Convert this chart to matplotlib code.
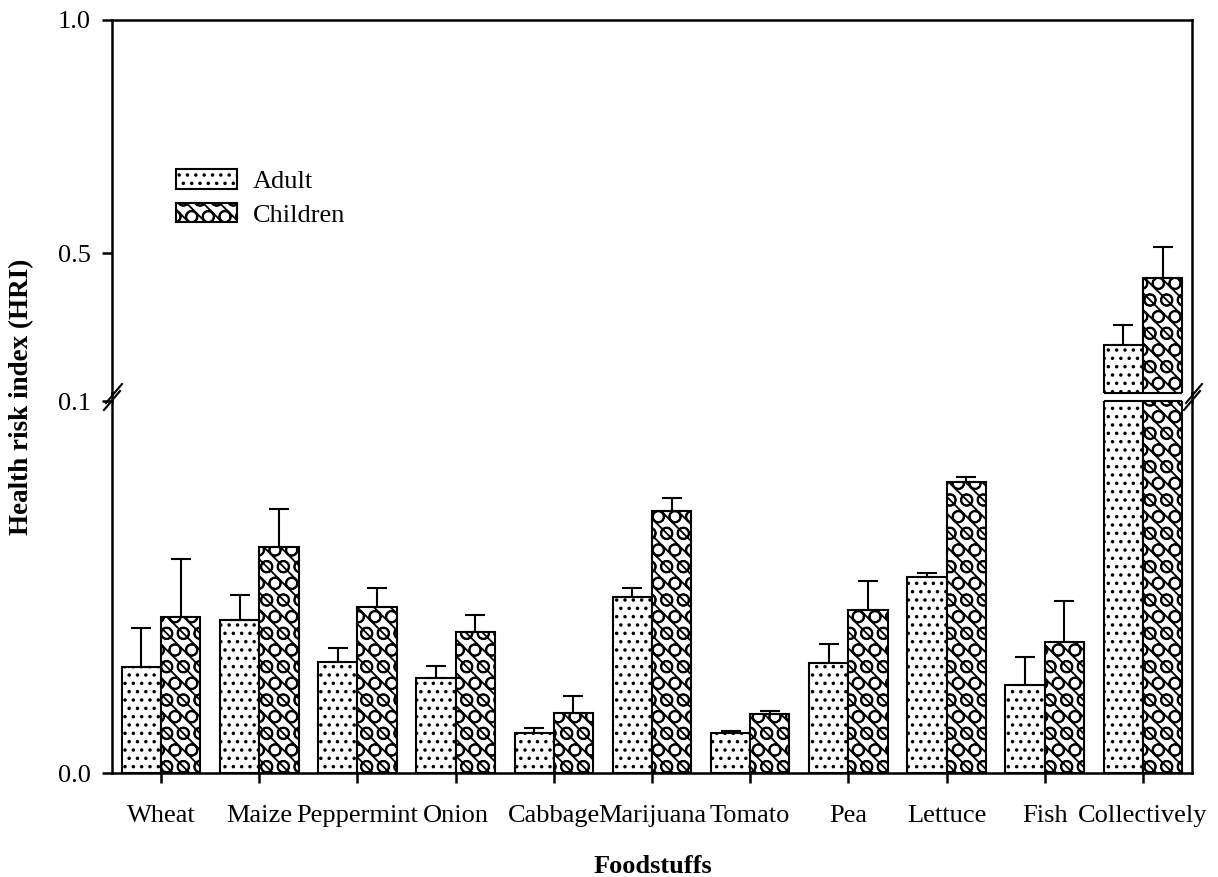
import numpy as np
import matplotlib.pyplot as plt
from matplotlib.lines import Line2D

plt.rcParams['font.family'] = ['Liberation Serif', 'DejaVu Serif']
plt.rcParams['hatch.linewidth'] = 1.3
plt.rcParams['axes.linewidth'] = 1.8

foods = ['Wheat', 'Maize', 'Peppermint', 'Onion', 'Cabbage', 'Marijuana',
         'Tomato', 'Pea', 'Lettuce', 'Fish', 'Collectively']
adult = [0.0285, 0.0411, 0.0298, 0.0255, 0.0108, 0.0473,
         0.0108, 0.0296, 0.0527, 0.0237, 0.303]
adult_err = [0.0105, 0.0067, 0.0038, 0.0032, 0.0013, 0.0024,
             0.0005, 0.0051, 0.0011, 0.0075, 0.043]
children = [0.0419, 0.0608, 0.0446, 0.0379, 0.0161, 0.0704,
            0.0159, 0.0438, 0.0782, 0.0352, 0.447]
children_err = [0.0156, 0.0102, 0.0051, 0.0046, 0.0046, 0.0035,
                0.0008, 0.0078, 0.0014, 0.0110, 0.066]

W, H = 1218, 877
fs = 19


def px_box(x0, x1, y_top, y_bot):
    return [x0 / W, 1 - y_bot / H, (x1 - x0) / W, (y_bot - y_top) / H]


def fig_line(xs, ys, lw=1.8):
    fig.add_artist(Line2D([v / W for v in xs], [1 - v / H for v in ys],
                          color='black', lw=lw, transform=fig.transFigure))


fig = plt.figure(figsize=(W / 100, H / 100), dpi=100)
ax_lo = fig.add_axes(px_box(112, 1192, 401, 773))
ax_hi = fig.add_axes(px_box(112, 1192, 20, 393))

x = np.arange(len(foods))
w = 0.4
n = len(foods)
ekw = dict(ecolor='black', elinewidth=1.5, capsize=7, capthick=1.5)

for ax in (ax_lo, ax_hi):
    ax.bar(x - w / 2, adult, w, yerr=[np.zeros(n), adult_err],
           facecolor='white', edgecolor='black', linewidth=1.5,
           hatch='..', error_kw=ekw, label='Adult')
    ax.bar(x + w / 2, children, w, yerr=[np.zeros(n), children_err],
           facecolor='white', edgecolor='black', linewidth=1.5,
           hatch='O\\\\', error_kw=ekw, label='Children')
    ax.set_xlim(-0.5, n - 0.5)
    ax.tick_params(axis='both', direction='out', length=7, width=1.8,
                   labelsize=fs, pad=8)

# lower segment 0-0.1, upper segment 0.2-1.0
ax_lo.set_ylim(0, 0.1)
ax_lo.set_yticks([0, 0.1], ['0.0', '0.1'])
ax_lo.set_xticks(x, foods)
ax_lo.tick_params(axis='x', pad=16)
ax_lo.spines['top'].set_visible(False)

ax_hi.set_ylim(0.2, 1.0)
ax_hi.set_yticks([0.5, 1.0], ['0.5', '1.0'])
ax_hi.set_xticks([])
ax_hi.spines['bottom'].set_visible(False)

# close off bars cut by the break
lo_top, hi_bot = ax_lo.get_ylim()[1], ax_hi.get_ylim()[0]
for offs, vals in ((-w / 2, adult), (w / 2, children)):
    for xi, v in zip(x, vals):
        if v > lo_top:
            ax_lo.hlines(lo_top, xi + offs - w / 2, xi + offs + w / 2,
                         color='black', lw=1.5, clip_on=False)
        if v > hi_bot:
            ax_hi.hlines(hi_bot, xi + offs - w / 2, xi + offs + w / 2,
                         color='black', lw=1.5, clip_on=False)

# axis lines across the gap and the break marks
for xs in (112, 1192):
    fig_line([xs, xs], [393, 401])
    fig_line([xs - 8, xs + 8], [410, 391], lw=1.5)
    fig_line([xs - 6, xs + 10], [403, 384], lw=1.5)

ax_hi.legend(loc='upper left', bbox_to_anchor=(176 / W, 1 - 169 / H),
             bbox_transform=fig.transFigure, frameon=False, fontsize=fs,
             handlelength=2.3, handleheight=0.76, handletextpad=0.6,
             labelspacing=0.38, borderpad=0, borderaxespad=0)

fig.text(22 / W, 1 - 397 / H, 'Health risk index (HRI)', rotation=90,
         fontsize=19.5, fontweight='bold', ha='center', va='center')
fig.text(653 / W, 1 - 873 / H, 'Foodstuffs', fontsize=fs,
         fontweight='bold', ha='center', va='baseline')

fig.savefig('out.png', dpi=100)
